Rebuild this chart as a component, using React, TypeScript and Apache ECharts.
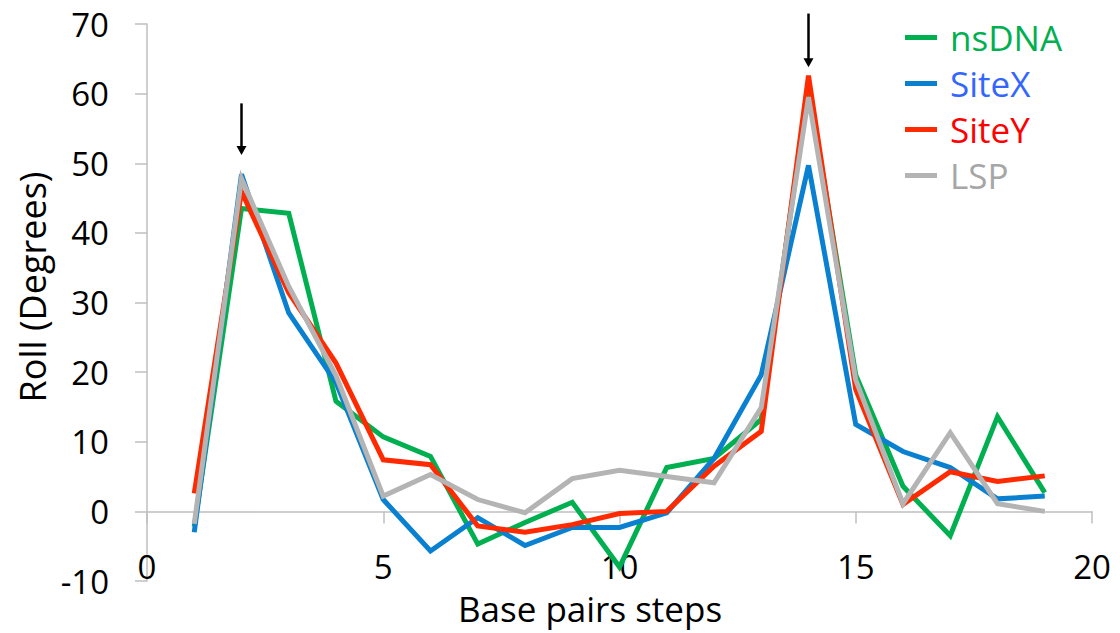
import React, { useEffect, useRef } from "react";
import * as echarts from "echarts";

const steps = [1, 2, 3, 4, 5, 6, 7, 8, 9, 10, 11, 12, 13, 14, 15, 16, 17, 18, 19];
const nsDNA = [-2.2, 43.5, 42.8, 15.8, 10.7, 7.9, -4.7, -1.6, 1.3, -8.0, 6.3, 7.6, 13.2, 61.0, 19.6, 3.6, -3.5, 13.6, 2.7];
const siteX = [-3.0, 48.4, 28.5, 18.5, 1.7, -5.7, -0.9, -4.9, -2.3, -2.3, -0.2, 7.6, 19.6, 49.7, 12.5, 8.6, 6.3, 1.8, 2.2];
const siteY = [2.6, 45.9, 31.4, 21.3, 7.4, 6.7, -2.1, -3.0, -1.9, -0.3, 0.0, 6.5, 11.5, 62.6, 17.5, 1.0, 5.7, 4.3, 5.1];
const lsp = [-1.8, 47.8, 32.3, 19.5, 2.2, 5.3, 1.7, -0.2, 4.7, 5.9, 5.0, 4.1, 14.9, 59.5, 18.9, 1.1, 11.3, 1.1, 0.0];
// arrows: [x, yStart, yTip]
const arrows = [
  [2, 58.6, 51.2],
  [14, 71.5, 63.8],
];
const seriesNames = ["nsDNA", "SiteX", "SiteY", "LSP"];
const lineColors = ["#00B050", "#0A80D0", "#FF2A00", "#B4B4B4"];
const legendColors = ["#00B050", "#3366FF", "#FF0000", "#A6A6A6"];
const yTicks = { min: -10, max: 70, interval: 10 };
const xTicks = { min: 0, max: 20, interval: 5 };

const FONT = "'Open Sans', sans-serif";

export default function App() {
  const ref = useRef<HTMLDivElement>(null);
  useEffect(() => {
    if (!ref.current) return;
    const chart = echarts.init(ref.current, undefined, { renderer: "svg" });
    const allData = [nsDNA, siteX, siteY, lsp];
    const lineSeries = seriesNames.map((name, i) => ({
      name,
      type: "line",
      xAxisIndex: 0,
      yAxisIndex: 0,
      data: steps.map((s, j) => [s, allData[i][j]]),
      showSymbol: false,
      symbol: "none",
      lineStyle: { color: lineColors[i], width: 5, join: "miter" },
      itemStyle: { color: lineColors[i] },
      z: 2 + i,
    }));
    const axisGrey = "#BFBFBF";
    chart.setOption({
      animation: false,
      grid: { left: 147, right: 28, top: 24, bottom: 52, containLabel: false },
      xAxis: [
        {
          type: "value",
          min: xTicks.min,
          max: xTicks.max,
          interval: xTicks.interval,
          position: "bottom",
          axisLine: { show: true, onZero: true, lineStyle: { color: axisGrey, width: 1.5 } },
          axisTick: { show: true, length: 12, lineStyle: { color: axisGrey, width: 1.5 } },
          axisLabel: { show: false },
          splitLine: { show: false },
        },
        {
          type: "value",
          min: xTicks.min,
          max: xTicks.max,
          interval: xTicks.interval,
          position: "bottom",
          axisLine: { show: false, onZero: false },
          axisTick: { show: false },
          axisLabel: {
            show: true,
            margin: -15,
            verticalAlign: "middle",
            fontFamily: FONT,
            fontSize: 33,
            lineHeight: 33,
            color: "#000",
          },
          splitLine: { show: false },
        },
      ],
      yAxis: {
        type: "value",
        min: yTicks.min,
        max: yTicks.max,
        interval: yTicks.interval,
        axisLine: { show: true, lineStyle: { color: axisGrey, width: 1.5 } },
        axisTick: { show: true, length: 12, lineStyle: { color: axisGrey, width: 1.5 } },
        axisLabel: { margin: 38, fontFamily: FONT, fontSize: 33, color: "#000" },
        splitLine: { show: false },
      },
      legend: {
        orient: "vertical",
        left: 900,
        top: 15,
        itemWidth: 32,
        itemHeight: 5,
        itemGap: 11,
        icon: "rect",
        data: seriesNames.map((name, i) => ({
          name,
          textStyle: { color: legendColors[i] },
        })),
        textStyle: { fontFamily: FONT, fontSize: 35, lineHeight: 35, padding: [0, 0, 0, 8] },
      },
      graphic: [
        {
          type: "text",
          x: 590,
          y: 608,
          style: {
            text: "Base pairs steps",
            fontFamily: FONT,
            fontSize: 35,
            lineHeight: 35,
            fill: "#000",
            align: "center",
            verticalAlign: "middle",
          },
        },
        {
          type: "text",
          x: 32,
          y: 287,
          rotation: Math.PI / 2,
          style: {
            text: "Roll (Degrees)",
            fontFamily: FONT,
            fontSize: 36,
            fill: "#000",
            align: "center",
            verticalAlign: "middle",
          },
        },
      ],
      series: [
        ...lineSeries,
        {
          type: "custom",
          name: "arrows",
          xAxisIndex: 0,
          yAxisIndex: 0,
          clip: false,
          z: 10,
          data: arrows,
          renderItem: (params: any, api: any) => {
            const top = api.coord([api.value(0), api.value(1)]);
            const tip = api.coord([api.value(0), api.value(2)]);
            const hw = 5;
            const hh = 9;
            return {
              type: "group",
              children: [
                {
                  type: "line",
                  shape: { x1: top[0], y1: top[1], x2: tip[0], y2: tip[1] - hh + 1 },
                  style: { stroke: "#000", lineWidth: 2.5 },
                },
                {
                  type: "polygon",
                  shape: {
                    points: [
                      [tip[0], tip[1]],
                      [tip[0] - hw, tip[1] - hh],
                      [tip[0] + hw, tip[1] - hh],
                    ],
                  },
                  style: { fill: "#000" },
                },
              ],
            };
          },
        },
      ],
    });
    return () => chart.dispose();
  }, []);
  return (
    <div
      ref={ref}
      style={{ position: "fixed", left: 0, top: 0, width: 1120, height: 633, background: "#fff" }}
    />
  );
}
